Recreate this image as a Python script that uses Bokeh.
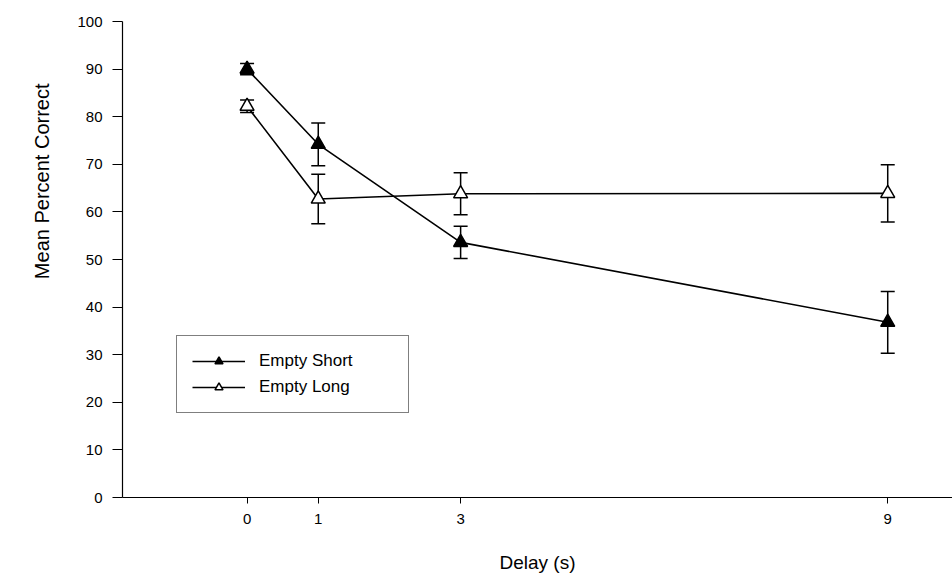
from bokeh.plotting import figure
from bokeh.models import ColumnDataSource, Whisker, TeeHead, Legend, LegendItem, FixedTicker, Range1d, Title
from bokeh.embed import file_html
from bokeh.resources import INLINE

delay = [0, 1, 3, 9]
short_mean = [90.0, 74.2, 53.6, 36.8]
short_err = [1.2, 4.5, 3.4, 6.5]
long_mean = [82.2, 62.7, 63.8, 63.9]
long_err = [1.3, 5.2, 4.4, 6.0]
y_ticks = list(range(0, 101, 10))

FONT = "Liberation Sans"

p = figure(width=952, height=583, output_backend="svg", toolbar_location=None,
           x_range=Range1d(-1.75, 9.91), y_range=Range1d(0, 100),
           min_border_left=122, min_border_right=0, min_border_top=21, min_border_bottom=86)
p.outline_line_color = None
p.grid.visible = False
p.background_fill_color = "white"
p.border_fill_color = "white"

def add_series(mean, err, fill):
    src = ColumnDataSource(dict(x=delay, y=mean,
                                lo=[m - e for m, e in zip(mean, err)],
                                hi=[m + e for m, e in zip(mean, err)]))
    w = Whisker(source=src, base="x", lower="lo", upper="hi", dimension="height",
                line_color="black", line_width=1.5,
                lower_head=TeeHead(size=14, line_color="black", line_width=1.5),
                upper_head=TeeHead(size=14, line_color="black", line_width=1.5))
    p.add_layout(w)
    ln = p.line("x", "y", source=src, line_color="black", line_width=1.6)
    mk = p.scatter("x", "y", source=src, marker="triangle", size=14,
                   fill_color=fill, line_color="black", line_width=1.5)
    return ln, mk

s_ln, s_mk = add_series(short_mean, short_err, "black")
l_ln, l_mk = add_series(long_mean, long_err, "white")

legend = Legend(items=[LegendItem(label="Empty Short", renderers=[s_ln, s_mk]),
                       LegendItem(label="Empty Long", renderers=[l_ln, l_mk])],
                location=(54, 84), orientation="vertical",
                border_line_color="black", border_line_width=1.2,
                background_fill_alpha=1, padding=15, spacing=6,
                glyph_width=53, glyph_height=20, label_standoff=14, label_width=134,
                label_text_font=FONT, label_text_font_size="17px", label_text_color="black",
                margin=0)
p.add_layout(legend)

p.xaxis.ticker = FixedTicker(ticks=delay)
p.yaxis.ticker = FixedTicker(ticks=y_ticks)
for ax in (p.xaxis, p.yaxis):
    ax.axis_line_color = "black"
    ax.axis_line_width = 1.2
    ax.major_tick_line_color = "black"
    ax.major_tick_in = 0
    ax.minor_tick_line_color = None
    ax.major_label_text_font = FONT
    ax.major_label_text_font_size = "15px"
    ax.major_label_text_color = "black"
    ax.axis_label_text_font = FONT
    ax.axis_label_text_font_size = "19px"
    ax.axis_label_text_font_style = "normal"
    ax.axis_label_text_color = "black"

p.xaxis.major_tick_out = 6
p.yaxis.major_tick_out = 10
p.xaxis.axis_label = "Delay (s)"
p.xaxis.major_label_standoff = 10
p.xaxis.axis_label_standoff = 25
p.yaxis.major_label_standoff = 10

# y-axis title placed as a side title so it can sit above the frame centre, as in the reference
ytitle = Title(text="Mean Percent Correct", align="right", offset=62,
               vertical_align="top",
               text_font=FONT, text_font_size="20px", text_font_style="normal",
               text_color="black", standoff=40)
p.add_layout(ytitle, "left")

open("out.html", "w").write(file_html(p, INLINE))
